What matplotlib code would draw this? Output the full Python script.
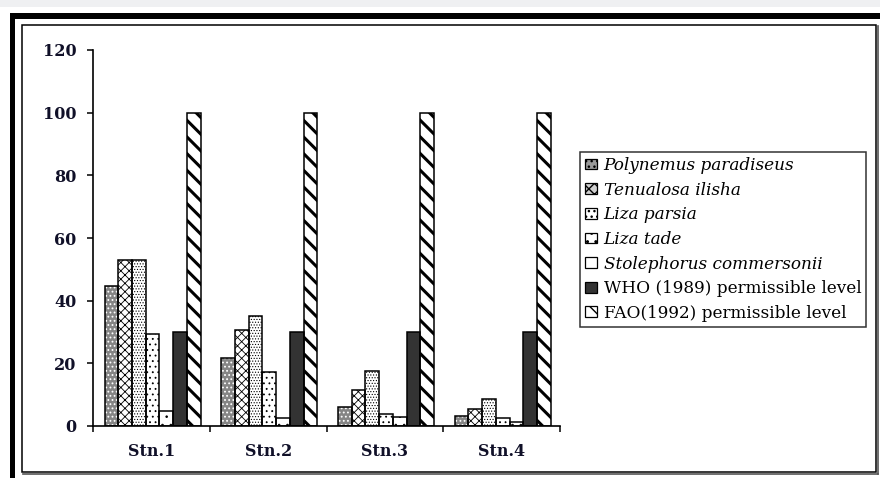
import matplotlib
matplotlib.use("Agg")
import matplotlib.pyplot as plt
import numpy as np
from matplotlib.patches import Rectangle, Patch
from matplotlib.lines import Line2D

stations = ["Stn.1", "Stn.2", "Stn.3", "Stn.4"]
series_names = ["Polynemus paradiseus", "Tenualosa ilisha", "Liza parsia", "Liza tade",
                "Stolephorus commersonii", "WHO (1989) permissible level", "FAO(1992) permissible level"]
polynemus = [44.7, 21.6, 6.0, 3.2]
tenualosa = [53.0, 30.6, 11.5, 5.3]
liza_parsia = [53.0, 35.1, 17.7, 8.7]
liza_tade = [29.4, 17.1, 3.8, 2.5]
stolephorus = [4.7, 2.4, 3.0, 1.4]
who_level = [30, 30, 30, 30]
fao_level = [100, 100, 100, 100]
yticks = [0, 20, 40, 60, 80, 100, 120]

values = [polynemus, tenualosa, liza_parsia, liza_tade, stolephorus, who_level, fao_level]
# (facecolor, hatch, hatchcolor, hatch linewidth)
styles = [
    ("#858585", "....", "white", 0.8),
    ("white", "xxxx", "black", 0.6),
    ("white", "......", "black", 0.5),
    ("white", "...", "black", 0.6),
    ("white", "..", "black", 0.6),
    ("#333333", None, "#333333", 0.6),
    ("white", "\\\\", "black", 2.2),
]

W, H = 880, 478
fig = plt.figure(figsize=(W / 100, H / 100), dpi=100)
fig.patch.set_facecolor("white")

def fx(x):
    return x / W

def fy(y):
    return 1 - y / H

# top gray strip
fig.add_artist(Rectangle((0, fy(7)), 1, 7 / H, transform=fig.transFigure,
                         facecolor="#eff0f2", edgecolor="none", zorder=0))
# outer thick frame (top and left)
fig.add_artist(Rectangle((fx(10), fy(19)), 1, 6 / H, transform=fig.transFigure,
                         facecolor="black", edgecolor="none", zorder=1))
fig.add_artist(Rectangle((fx(10), 0), 5 / W, fy(13), transform=fig.transFigure,
                         facecolor="black", edgecolor="none", zorder=1))
# inner frame
fig.add_artist(Rectangle((fx(22), fy(472)), (876 - 22) / W, (472 - 25) / H,
                         transform=fig.transFigure, facecolor="none",
                         edgecolor="black", lw=1.1, zorder=2))
fig.add_artist(Line2D([fx(877.5), fx(877.5)], [fy(473.5), fy(26)], transform=fig.transFigure,
                      color="#555555", lw=1.2, zorder=2))
fig.add_artist(Line2D([fx(23), fx(877.5)], [fy(473.5), fy(473.5)], transform=fig.transFigure,
                      color="#555555", lw=1.2, zorder=2))

ax = fig.add_axes([fx(93), fy(426), fx(560) - fx(93), fy(50) - fy(426)])
ax.set_facecolor("none")

x = np.arange(len(stations))
w = 0.1175
handles = []
handle_hatch = ["...", "xxx", "...", "..", ".", None, "\\\\"]
handle_fc = ["#9a9a9a", "#cfcfcf", "white", "white", "white", "#333333", "white"]
for i, (vals, (fc, hatch, hc, hlw)) in enumerate(zip(values, styles)):
    pos = x + (i - 3) * w + 0.01
    with plt.rc_context({"hatch.linewidth": hlw}):
        bars = ax.bar(pos, vals, width=w, facecolor=fc, edgecolor=hc, hatch=hatch,
                      linewidth=0, zorder=2)
        for b in bars:
            if hasattr(b, "set_hatch_linewidth"):
                b.set_hatch_linewidth(hlw)
    ax.bar(pos, vals, width=w, fill=False, edgecolor="black", linewidth=1.1, zorder=3)
    with plt.rc_context({"hatch.linewidth": 0.8}):
        hp = Patch(facecolor=handle_fc[i], edgecolor="black",
                   hatch=handle_hatch[i], linewidth=0.9)
        if hasattr(hp, "set_hatch_linewidth"):
            hp.set_hatch_linewidth(0.8)
    handles.append(hp)

ax.set_xlim(-0.5, 3.5)
ax.set_ylim(0, 120)
ax.set_yticks(yticks)
ax.set_xticks(np.arange(-0.5, 4.0, 1.0))
ax.set_xticklabels([])
ax.set_xticks(x, minor=True)
ax.set_xticklabels(stations, minor=True)
ax.tick_params(axis="x", which="minor", length=0, pad=12)
ax.tick_params(axis="x", which="major", length=4, width=1.1, direction="out")
ax.tick_params(axis="y", length=4, width=1.1, direction="out", pad=8)
for s in ["top", "right"]:
    ax.spines[s].set_visible(False)
for s in ["left", "bottom"]:
    ax.spines[s].set_linewidth(1.2)

for lab in ax.get_yticklabels() + ax.get_xticklabels(minor=True):
    lab.set_fontfamily("DejaVu Serif")
    lab.set_fontweight("bold")
    lab.set_fontsize(11.5)
    lab.set_color("#101028")

leg = fig.legend(handles, series_names, loc="upper left",
                 bbox_to_anchor=(fx(580), fy(152)), bbox_transform=fig.transFigure,
                 borderaxespad=0, frameon=True, fancybox=False, edgecolor="black",
                 handlelength=0.7, handleheight=0.6, handletextpad=0.4,
                 labelspacing=0.45, borderpad=0.3,
                 prop=dict(family="DejaVu Serif", size=12.2))
leg.get_frame().set_linewidth(1.1)
for t in leg.get_texts()[:5]:
    t.set_fontstyle("italic")

fig.savefig("out.png", dpi=100, facecolor="white")
